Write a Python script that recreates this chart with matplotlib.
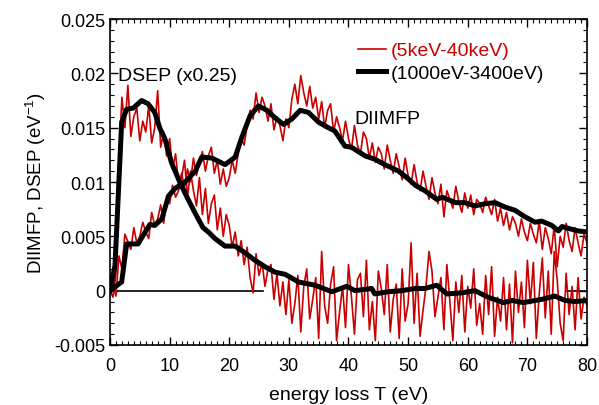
import numpy as np
import matplotlib.pyplot as plt
from matplotlib.ticker import MultipleLocator

plt.rcParams['font.family'] = ['Liberation Sans', 'DejaVu Sans']

RED = '#c80000'

# red curves, sampled every 0.5 eV, values in units of 1e-4 eV^-1
x_red = np.arange(0, 80.01, 0.5)
diimfp_red = [
    0, 6, -5, 32, 20, 52, 45, 38, 58, 44, 50, 63, 54, 48, 72, 60, 66, 79, 62, 84,
    80, 97, 86, 92, 108, 95, 112, 100, 122, 106, 118, 128, 110, 124, 132, 108, 120, 98, 112, 96,
    104, 120, 108, 126, 140, 134, 152, 166, 158, 182, 164, 178, 170, 156, 172, 148, 160, 152, 138, 158,
    150, 176, 190, 172, 198, 182, 170, 188, 168, 178, 158, 174, 150, 166, 172, 146, 160, 150, 138, 156,
    140, 130, 152, 134, 126, 146, 140, 122, 136, 118, 132, 126, 112, 134, 120, 108, 126, 114, 102, 122,
    106, 98, 116, 100, 92, 110, 96, 84, 104, 90, 80, 98, 68, 92, 84, 76, 96, 82, 72, 90,
    76, 88, 70, 84, 80, 72, 86, 78, 70, 84, 64, 76, 60, 72, 56, 68, 62, 50, 66, 54,
    46, 62, 52, 44, 64, 38, 58, 48, 34, 60, 22, 50, 40, 62, 46, 36, 58, 44, 32, 52,
    44,
]
dsep_red = [
    0, -6, 15, 120, 178, 150, 189, 142, 160, 168, 138, 156, 146, 170, 136, 150, 184, 132, 146, 124,
    140, 112, 126, 98, 104, 120, 86, 110, 92, 78, 104, 70, 94, 62, 80, 88, 56, 76, 50, 70,
    60, 40, 54, 32, 46, 24, 40, 12, -2, 34, 14, 26, 4, 20, 24, -8, 16, -14, 8, -22,
    10, -30, -12, 14, -38, 4, 20, -26, -8, 12, -44, 36, -14, -30, 6, 22, -46, -20, 4, -34,
    24, -6, -40, 10, 16, -24, 28, -36, -10, -46, 18, 2, -22, 24, -38, -8, 6, -44, 20, -28,
    -12, 44, -30, 16, -42, -18, 4, 36, 18, -24, -6, 12, -36, 24, -10, -46, 8, -20, 14, -38,
    4, -16, 20, -32, -12, -40, 14, -22, 22, -42, -6, -28, 12, -36, 6, -48, 18, -20, 8, -34,
    28, -12, 26, -44, -2, 30, -25, 18, -40, 36, 10, -30, -46, 16, -22, 4, -36, 12, -26, -6,
    -14,
]

# black curves (1000eV-3400eV)
x_dsep_blk = [0, 0.84, 1.96, 2.8, 3.9, 5.3, 6.4, 7.5, 8.4, 9.2, 10.3, 11.7, 13.1, 14.8, 15.6,
              16.5, 17.6, 19.3, 21.0, 22.6, 24.3, 26.0, 27.7, 29.4, 31.6, 34.4, 37.2, 39.7,
              41.1, 43.9, 44.4, 46.7, 48.9, 51.2, 52.8, 54.8, 56.5, 59.0, 61.2, 63.4, 66.0,
              67.4, 69.3, 72.4, 74.6, 76.3, 78.0, 80.0]
dsep_blk = [0, 0.0023, 0.0155, 0.0167, 0.0168, 0.0175, 0.0172, 0.0164, 0.0149, 0.0140, 0.0118,
            0.0100, 0.0084, 0.0066, 0.0058, 0.0054, 0.0048, 0.0041, 0.0041, 0.0035, 0.0028,
            0.0022, 0.0017, 0.0015, 0.0008, 0.0005, -0.0001, 0.0004, 0.0, 0.0002, -0.0003,
            -0.0001, 0.0, 0.0002, 0.0002, 0.0005, -0.0003, -0.0002, 0.0, -0.0006, -0.0011,
            -0.0009, -0.0011, -0.0008, -0.0005, -0.0009, -0.0010, -0.0009]
x_diimfp_blk = [0, 1.96, 2.8, 4.7, 5.9, 6.7, 7.5, 8.7, 9.8, 10.9, 12.6, 14.3, 15.4, 17.1, 19.3,
                21.0, 22.1, 23.5, 24.9, 26.3, 27.7, 29.1, 30.5, 31.9, 33.3, 35.0, 36.6, 37.7,
                39.4, 40.5, 42.8, 44.4, 46.1, 48.4, 50.0, 51.2, 52.8, 54.8, 55.7, 58.0, 59.5,
                61.2, 62.9, 64.6, 66.2, 67.9, 69.6, 71.3, 72.4, 74.1, 75.2, 75.8, 77.1, 78.5, 80.0]
diimfp_blk = [0, 0.0008, 0.0043, 0.0043, 0.0054, 0.0061, 0.0060, 0.0066, 0.0087, 0.0094, 0.0100,
              0.0110, 0.0123, 0.0122, 0.0116, 0.0123, 0.0141, 0.0161, 0.0170, 0.0166, 0.0159,
              0.0153, 0.0158, 0.0166, 0.0164, 0.0155, 0.0150, 0.0147, 0.0133, 0.0132, 0.0124,
              0.0121, 0.0116, 0.0110, 0.0103, 0.0097, 0.0092, 0.0084, 0.0086, 0.0081, 0.0081,
              0.0078, 0.0080, 0.0081, 0.0077, 0.0074, 0.0068, 0.0063, 0.0064, 0.0060, 0.0055,
              0.0059, 0.0057, 0.0055, 0.0054]

fig = plt.figure(figsize=(5.99, 4.06), dpi=100)
ax = fig.add_axes([0.1836, 0.1478, 0.7964, 0.8029])

# zero reference lines
ax.plot([0, 25.7], [0, 0], color='black', lw=1.2)
ax.plot([76.5, 80], [0, 0], color='black', lw=1.2)

ax.plot(x_red, np.array(dsep_red) * 1e-4, color=RED, lw=1.2)
ax.plot(x_red, np.array(diimfp_red) * 1e-4, color=RED, lw=1.2, label='(5keV-40keV)')
ax.plot(x_dsep_blk, dsep_blk, color='black', lw=3.6, solid_joinstyle='round')
ax.plot(x_diimfp_blk, diimfp_blk, color='black', lw=3.6, solid_joinstyle='round',
        label='(1000eV-3400eV)')

ax.set_xlim(0, 80)
ax.set_ylim(-0.005, 0.025)
ax.set_xticks(range(0, 81, 10))
ax.set_yticks([-0.005, 0, 0.005, 0.01, 0.015, 0.02, 0.025])
ax.set_yticklabels(['-0.005', '0', '0.005', '0.01', '0.015', '0.02', '0.025'])
ax.xaxis.set_minor_locator(MultipleLocator(1))
ax.yaxis.set_minor_locator(MultipleLocator(0.001))
ax.tick_params(which='both', direction='in', top=True, right=True, labelsize=13)
ax.tick_params(which='major', length=6, width=1)
ax.tick_params(which='minor', length=3, width=0.8)
ax.tick_params(axis='x', pad=9)
for s in ax.spines.values():
    s.set_linewidth(1.2)

ax.set_xlabel('energy loss T (eV)', fontsize=14, labelpad=8)
ax.set_ylabel('DIIMFP, DSEP (eV$^{\\mathregular{-1}}$)', fontsize=13.5)

ax.text(1.3, 0.0198, 'DSEP (x0.25)', fontsize=14, va='center', ha='left')
ax.text(41.0, 0.0158, 'DIIMFP', fontsize=14, va='center', ha='left')

leg = ax.legend(loc='upper left', bbox_to_anchor=(0.5, 0.96), frameon=False, fontsize=14,
                handlelength=1.45, handletextpad=0.2, labelspacing=0.25, borderpad=0)
leg.get_texts()[0].set_color(RED)

fig.savefig('out.png', dpi=100)
